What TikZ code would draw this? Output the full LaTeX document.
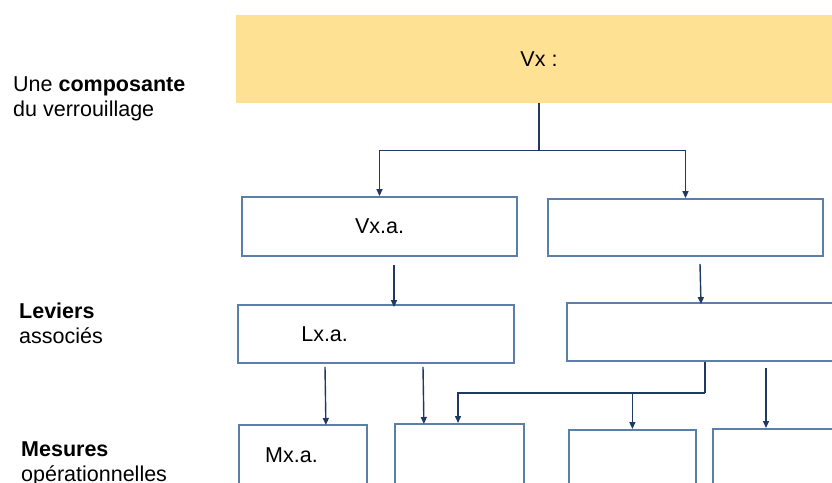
\documentclass[tikz,border=0pt]{standalone}
\usepackage{fontspec}
\setmainfont{Liberation Sans}
\usetikzlibrary{arrows.meta}
\definecolor{goldfill}{HTML}{FFE194}
\definecolor{boxline}{HTML}{5B7FA8}
\definecolor{navy}{HTML}{203864}
\begin{document}
\begin{tikzpicture}[x=1pt,y=-1pt,
        font=\fontsize{21.5}{24.5}\selectfont,
        box/.style={draw=boxline,line width=1.8pt,rectangle,inner sep=0pt},
        arr/.style={draw=navy,line width=1.4pt,-{Triangle[length=7pt,width=6pt]}},
        side/.style={anchor=base west,align=left,inner sep=0pt}]
    \clip (0,0) rectangle (832,482);
    \node[fill=goldfill,minimum width=606pt,minimum height=88pt,inner sep=0pt] (vx) at (539,59) {Vx :};
    \node[box,minimum width=275pt,minimum height=59pt] (va) at (379.5,226.5) {Vx.a.};
    \node[box,minimum width=275pt,minimum height=57pt] (vb) at (685.5,227.5) {};
    \node[box,minimum width=276pt,minimum height=58pt,
        label={[anchor=west,inner sep=0pt,xshift=64pt]west:Lx.a.}] (la) at (376,334) {};
    \node[box,minimum width=276pt,minimum height=58pt] (lb) at (705,332) {};
    \node[box,minimum width=128pt,minimum height=60pt,anchor=north west,
        label={[anchor=west,inner sep=0pt,xshift=27pt]west:Mx.a.}] (ma) at (238,424) {};
    \node[box,minimum width=129pt,minimum height=60pt,anchor=north west] (mb) at (394,423) {};
    \node[box,minimum width=127pt,minimum height=60pt,anchor=north west] (mc) at (568,429) {};
    \node[box,minimum width=128pt,minimum height=60pt,anchor=north west] (md) at (712,428) {};
    \node[side] (c1) at (13,116) {Une \textbf{composante}\\du verrouillage};
    \node[side] (c2) at (19,343) {\textbf{Leviers}\\associés};
    \node[side] (c3) at (21,481) {\textbf{Mesures}\\opérationnelles};
    % composante vers sous-composantes
    \coordinate (s1) at ([yshift=-47pt]vx.south);
    \draw[draw=navy,line width=1.4pt] (vx.south) -- (s1);
    \draw[arr] (s1) -| (va.north);
    \draw[arr] (s1) -| (vb.north);
    \draw[arr] ([xshift=14.5pt,yshift=-8pt]va.south) -- ([xshift=18pt,yshift=-3pt]la.north);
    \draw[arr] ([xshift=14.5pt,yshift=-7pt]vb.south) -- ([xshift=-4pt,yshift=-2pt]lb.north);
    % leviers vers mesures
    \draw[arr] ([xshift=-51pt,yshift=-3pt]la.south) -- ([xshift=23pt,yshift=-1pt]ma.north);
    \draw[arr] ([xshift=47pt,yshift=-3pt]la.south) -- ([xshift=-35.5pt,yshift=-1pt]mb.north);
    \coordinate (s2) at ([yshift=-31pt]lb.south);
    \draw[draw=navy,line width=1.4pt] (lb.south) -- (s2);
    \draw[arr] (s2) -| ([xshift=64pt]mb.north west);
    \draw[arr] (s2 -| mc.north) -- (mc.north);
    \draw[arr] ([xshift=61pt,yshift=-6pt]lb.south) -- ([xshift=54pt]md.north west);
\end{tikzpicture}
\end{document}
